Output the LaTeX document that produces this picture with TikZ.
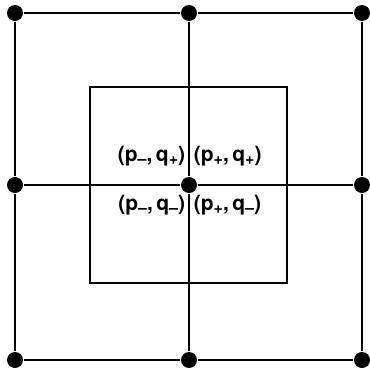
\documentclass[tikz,border=0pt]{standalone}
\usepackage{fontspec}
\setmainfont{TeX Gyre Heros}
\usetikzlibrary{positioning}
\newcommand{\sub}[1]{\raisebox{-0.3ex}{\fontsize{16}{16}\selectfont #1}}
\tikzset{
  dot/.style={circle, fill=black, inner sep=0pt, minimum size=16pt},
  lbl/.style={font=\fontsize{21}{21}\selectfont\bfseries, inner sep=0pt}
}

\begin{document}
\begin{tikzpicture}[x=1pt, y=-1pt, line width=1.8pt]
  \useasboundingbox (0,0) rectangle (370,370);
  % grid of dots
  \foreach \i/\x in {0/15, 1/189, 2/362} {
    \foreach \j/\y in {0/13, 1/185, 2/360} {
      \node[dot] (d\i\j) at (\x,\y) {};
    }
  }
  % outer square and cross
  \draw (d00) -- (d10) -- (d20) -- (d21) -- (d22) -- (d12) -- (d02) -- (d01) -- (d00);
  \draw (d10) -- (d11) -- (d12);
  \draw (d01) -- (d11) -- (d21);
  % inner square
  \draw (90,87) rectangle (287,283);
  % labels round the centre
  \node[lbl, anchor=east] (mp) at (186,156) {(p\sub{–},\,q\sub{+})};
  \node[lbl, anchor=west] (pp) at (193,156) {(p\sub{+},\,q\sub{+})};
  \node[lbl, anchor=east] (mm) at (186,205) {(p\sub{–},\,q\sub{–})};
  \node[lbl, anchor=west] (pm) at (193,205) {(p\sub{+},\,q\sub{–})};
\end{tikzpicture}
\end{document}
